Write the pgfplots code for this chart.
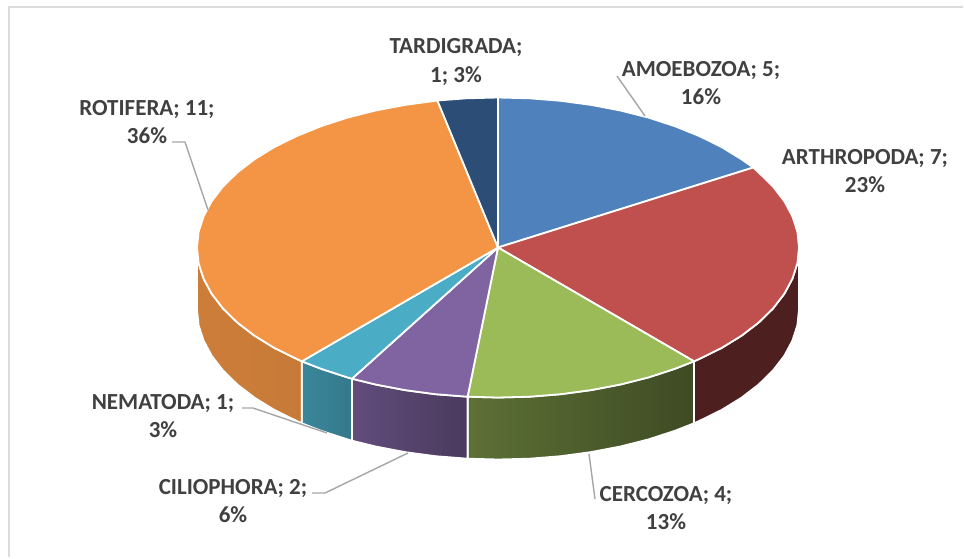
\documentclass[border=0pt]{standalone}
\usepackage{fontspec}
\setmainfont{Carlito}
\usepackage{pgfplots}
\pgfplotsset{compat=1.18}

\definecolor{amoeba}{HTML}{4F81BD}
\definecolor{arthro}{HTML}{C0504D}
\definecolor{cercoz}{HTML}{9BBB59}
\definecolor{cilio}{HTML}{8064A2}
\definecolor{nemat}{HTML}{4BACC6}
\definecolor{rotif}{HTML}{F39544}
\definecolor{tardi}{HTML}{2C4D75}
\definecolor{labelgray}{HTML}{404040}
\definecolor{leader}{HTML}{A6A6A6}
\definecolor{framegray}{HTML}{DCDCDC}

\tikzset{
  slice/.style={draw=white, line width=1.8pt, line join=round},
  lead/.style={draw=leader, line width=1.4pt},
  lab/.style={font=\fontsize{23}{28.5}\selectfont\bfseries, text=labelgray, align=center, inner sep=0pt}
}

\begin{document}
\begin{tikzpicture}
\begin{axis}[
    scale only axis,
    width=964pt,
    height=558pt,
    xmin=0, xmax=964,
    ymin=0, ymax=558,
    y dir=reverse,
    axis lines=none,
    clip=false
]
% page and frame (only top and left edges show)
\addplot[draw=none, fill=white] coordinates {(0,0) (964,0) (964,558) (0,558)} --cycle;
\addplot[draw=framegray, line width=2pt] coordinates {(8.5,557) (8.5,7) (963,7)};

% side walls
\addplot[slice, fill=arthro!40!black] coordinates {
  (799,247.5) (797.4,263.2) (792.4,278.7) (784.3,293.8) (773,308.5) (758.7,322.5) (741.5,335.7) (721.7,347.9) (699.4,358.9) (694,361.3)
  (694,423.3) (699.4,420.9) (721.7,409.9) (741.5,397.7) (758.7,384.5) (773,370.5) (784.3,355.8) (792.4,340.7) (797.4,325.2) (799,309.5)} --cycle;
\addplot[slice, left color=cercoz!60!black, right color=cercoz!40!black] coordinates {
  (694,361.3) (674.9,368.8) (648.5,377.4) (620.4,384.5) (591,390.1) (560.6,394.2) (529.5,396.7) (498,397.5) (467.6,396.7)
  (467.6,458.7) (498,459.5) (529.5,458.7) (560.6,456.2) (591,452.1) (620.4,446.5) (648.5,439.4) (674.9,430.8) (694,423.3)} --cycle;
\addplot[slice, left color=cilio!76!black, right color=cilio!58!black] coordinates {
  (467.6,396.7) (435.4,394.2) (405,390.1) (375.6,384.5) (352,378.7)
  (352,440.7) (375.6,446.5) (405,452.1) (435.4,456.2) (467.6,458.7)} --cycle;
\addplot[slice, left color=nemat!78!black, right color=nemat!70!black] coordinates {
  (352,378.7) (347.5,377.4) (321.1,368.8) (301.8,361.3)
  (301.8,423.3) (321.1,430.8) (347.5,439.4) (352,440.7)} --cycle;
\addplot[slice, left color=rotif!84!black, right color=rotif!82!black] coordinates {
  (301.8,361.3) (296.6,358.9) (274.3,347.9) (254.5,335.7) (237.3,322.5) (223,308.5) (211.7,293.8) (203.6,278.7) (198.6,263.2) (197,247.5)
  (197,309.5) (198.6,325.2) (203.6,340.7) (211.7,355.8) (223,370.5) (237.3,384.5) (254.5,397.7) (274.3,409.9) (296.6,420.9) (301.8,423.3)} --cycle;

% top face
\addplot[slice, fill=amoeba] coordinates {
  (498,247.5) (498,97.5) (529.5,98.3) (560.6,100.8) (591,104.9) (620.4,110.5) (648.5,117.6) (674.9,126.2) (699.4,136.1) (721.7,147.1) (741.5,159.3) (753.3,167.5)} --cycle;
\addplot[slice, fill=arthro] coordinates {
  (498,247.5) (753.3,167.5) (758.7,172.5) (773,186.5) (784.3,201.2) (792.4,216.3) (797.4,231.8) (799,247.5) (797.4,263.2) (792.4,278.7) (784.3,293.8) (773,308.5) (758.7,322.5) (741.5,335.7) (721.7,347.9) (699.4,358.9) (694,361.3)} --cycle;
\addplot[slice, fill=cercoz] coordinates {
  (498,247.5) (694,361.3) (674.9,368.8) (648.5,377.4) (620.4,384.5) (591,390.1) (560.6,394.2) (529.5,396.7) (498,397.5) (467.6,396.7)} --cycle;
\addplot[slice, fill=cilio] coordinates {
  (498,247.5) (467.6,396.7) (435.4,394.2) (405,390.1) (375.6,384.5) (352,378.7)} --cycle;
\addplot[slice, fill=nemat] coordinates {
  (498,247.5) (352,378.7) (347.5,377.4) (321.1,368.8) (301.8,361.3)} --cycle;
\addplot[slice, fill=rotif] coordinates {
  (498,247.5) (301.8,361.3) (296.6,358.9) (274.3,347.9) (254.5,335.7) (237.3,322.5) (223,308.5) (211.7,293.8) (203.6,278.7) (198.6,263.2) (197,247.5)
  (198.6,231.8) (203.6,216.3) (211.7,201.2) (223,186.5) (237.3,172.5) (254.5,159.3) (274.3,147.1) (296.6,136.1) (321.1,126.2) (347.5,117.6) (375.6,110.5) (405,104.9) (435.4,100.8) (437.4,100.5)} --cycle;
\addplot[slice, fill=tardi] coordinates {
  (498,247.5) (437.4,100.5) (466.5,98.3) (498,97.5)} --cycle;

% leader lines
\addplot[lead] coordinates {(617,76) (645,116)};
\addplot[lead] coordinates {(172,142) (185,142) (208,210)};
\addplot[lead] coordinates {(242,408) (253,408) (327,433)};
\addplot[lead] coordinates {(312,493) (325,493) (408,453)};
\addplot[lead] coordinates {(595,499) (589,454)};

% labels
\node[lab] at (axis cs:701,83) {AMOEBOZOA; 5;\\16\%};
\node[lab] at (axis cs:865,171) {ARTHROPODA; 7;\\23\%};
\node[lab] at (axis cs:147,122) {ROTIFERA; 11;\\36\%};
\node[lab] at (axis cs:456,62) {TARDIGRADA;\\1; 3\%};
\node[lab] at (axis cs:163,416) {NEMATODA; 1;\\3\%};
\node[lab] at (axis cs:233,501) {CILIOPHORA; 2;\\6\%};
\node[lab] at (axis cs:666,508) {CERCOZOA; 4;\\13\%};
\end{axis}
\end{tikzpicture}
\end{document}
